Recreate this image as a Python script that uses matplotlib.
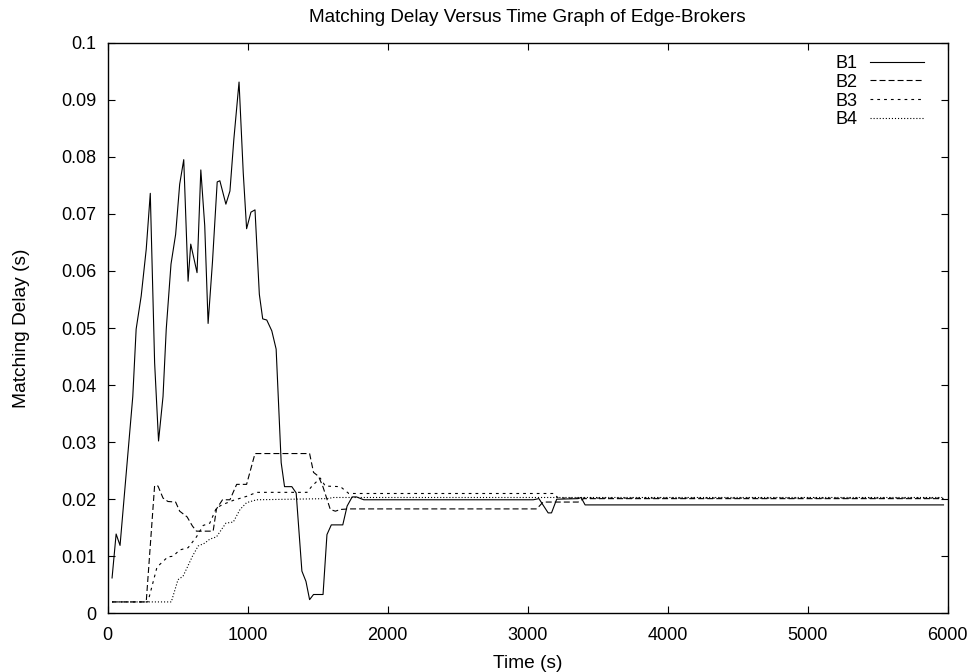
import matplotlib
matplotlib.use("Agg")
import matplotlib.pyplot as plt

# valores (tiempo en s, retardo en s)
b1_t = [31, 60, 88, 179, 203, 239, 275, 304, 335, 363, 395, 418, 452, 485, 514, 543,
        574, 593, 638, 665, 693, 717, 748, 782, 801, 844, 873, 901, 938, 968, 992,
        1023, 1052, 1083, 1107, 1136, 1172, 1203, 1239, 1263, 1315, 1346, 1387, 1416,
        1442, 1470, 1538, 1566, 1597, 1679, 1710, 1746, 1777, 1829, 3040, 3080, 3146,
        3170, 3207, 3360, 3381, 3410, 5970]
b1_d = [0.0062, 0.0139, 0.0119, 0.0380, 0.0498, 0.0556, 0.0638, 0.0736, 0.0439,
        0.0302, 0.0380, 0.0498, 0.0612, 0.0664, 0.0752, 0.0795, 0.0582, 0.0647,
        0.0597, 0.0777, 0.0679, 0.0508, 0.0615, 0.0756, 0.0758, 0.0717, 0.0740,
        0.0831, 0.0931, 0.0772, 0.0674, 0.0703, 0.0707, 0.0559, 0.0516, 0.0514,
        0.0495, 0.0463, 0.0264, 0.0222, 0.0222, 0.0211, 0.0074, 0.0056, 0.0024,
        0.0033, 0.0033, 0.0138, 0.0155, 0.0155, 0.0188, 0.0204, 0.0204, 0.0199,
        0.0199, 0.0201, 0.0176, 0.0176, 0.0200, 0.0201, 0.0203, 0.0190, 0.0190]

b2_t = [31, 275, 335, 359, 395, 430, 485, 514, 567, 605, 634, 753, 777, 820, 873, 921,
        992, 1052, 1442, 1470, 1506, 1537, 1590, 1626, 1662, 1722, 3064, 3110, 3360,
        3400, 5970]
b2_d = [0.0020, 0.0020, 0.0224, 0.0223, 0.0202, 0.0196, 0.0195, 0.0179, 0.0169,
        0.0153, 0.0144, 0.0144, 0.0183, 0.0199, 0.0199, 0.0226, 0.0226, 0.0280,
        0.0280, 0.0247, 0.0240, 0.0222, 0.0182, 0.0179, 0.0182, 0.0183, 0.0183,
        0.0195, 0.0195, 0.0201, 0.0201]

b3_t = [31, 287, 352, 395, 430, 466, 514, 574, 634, 682, 729, 777, 825, 897, 992,
        1064, 1423, 1459, 1518, 1554, 1662, 1722, 3181, 3220, 5970]
b3_d = [0.0020, 0.0020, 0.0081, 0.0091, 0.0099, 0.0100, 0.0111, 0.0115, 0.0134,
        0.0154, 0.0158, 0.0185, 0.0191, 0.0198, 0.0205, 0.0212, 0.0212, 0.0223,
        0.0237, 0.0223, 0.0222, 0.0210, 0.0210, 0.0202, 0.0202]

b4_t = [31, 454, 502, 538, 567, 605, 646, 693, 729, 777, 813, 844, 897, 945, 992,
        1064, 1566, 1614, 5970]
b4_d = [0.0020, 0.0020, 0.0059, 0.0065, 0.0080, 0.0100, 0.0118, 0.0123, 0.0130,
        0.0134, 0.0147, 0.0158, 0.0160, 0.0182, 0.0194, 0.0199, 0.0201, 0.0203,
        0.0203]

plt.rcParams['font.family'] = ['Liberation Sans', 'DejaVu Sans']
plt.rcParams['lines.scale_dashes'] = False

W, H = 974, 672
fig = plt.figure(figsize=(W / 100, H / 100), dpi=100)
ax = fig.add_axes([0.1106, 0.0873, 0.8624, 0.8492])

lw = 0.8
ax.plot(b1_t, b1_d, color='black', lw=lw, linestyle='-', label='B1')
ax.plot(b2_t, b2_d, color='black', lw=lw, linestyle=(0, (4.3, 2.2)), label='B2')
ax.plot(b3_t, b3_d, color='black', lw=lw, linestyle=(0, (2.0, 2.9)), label='B3')
ax.plot(b4_t, b4_d, color='black', lw=lw, linestyle=(0, (0.8, 1.4)), label='B4')

ax.set_xlim(0, 6000)
ax.set_ylim(0, 0.1)
ax.set_xticks(range(0, 7000, 1000))
ax.set_yticks([i / 100 for i in range(11)])
ax.set_yticklabels(['0'] + [f'{i / 100:g}' for i in range(1, 11)])
ax.tick_params(direction='in', length=5, width=0.8, top=True, right=True,
               labelsize=13)
ax.tick_params(axis='x', pad=10)
ax.tick_params(axis='y', pad=8)
for s in ax.spines.values():
    s.set_linewidth(1.0)

fig.text(527.7 / W, 1 - 21.5 / H, 'Matching Delay Versus Time Graph of Edge-Brokers',
         fontsize=13.6, ha='center', va='baseline')
ax.set_xlabel('Time (s)', fontsize=13.8)
ax.set_ylabel('Matching Delay (s)', fontsize=13.8)
ax.xaxis.set_label_coords(0.5, -0.0725)
ax.yaxis.set_label_coords(-0.0925, 0.5)

ax.legend(loc='upper right', bbox_to_anchor=(924 / W, 1 - 55 / H),
          bbox_transform=fig.transFigure, frameon=False, markerfirst=False,
          fontsize=13, handlelength=3.0, handletextpad=0.67, labelspacing=0.1,
          borderpad=0, borderaxespad=0)

fig.savefig('out.png', dpi=100)
